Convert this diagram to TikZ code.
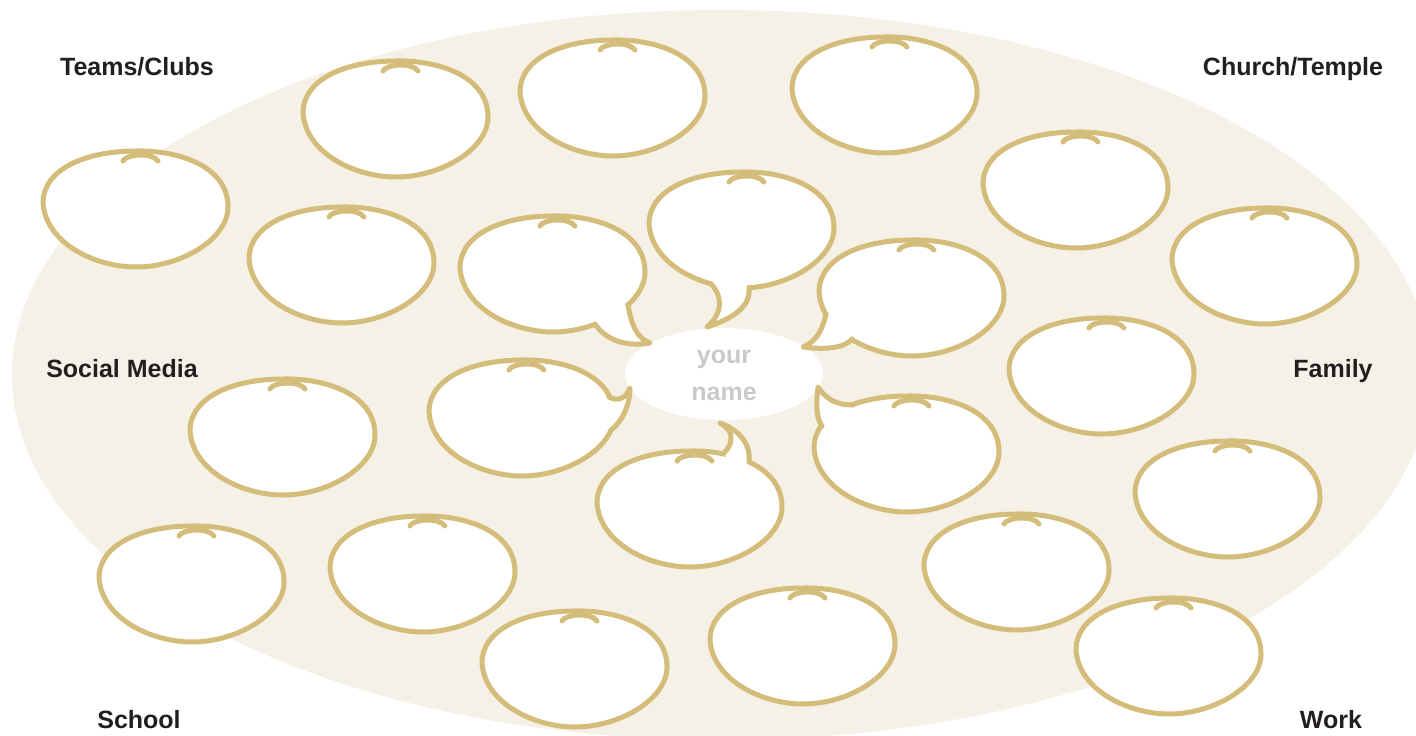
\documentclass[tikz,border=0pt]{standalone}
\usepackage{fontspec}
\setmainfont{Liberation Sans}
\definecolor{bgbeige}{HTML}{F5F1E6}
\definecolor{gold}{HTML}{D4BC7B}
\definecolor{lbl}{HTML}{231F20}
\definecolor{nmgrey}{HTML}{C8C9CB}
\tikzset{
  blobline/.style={draw=gold, line width=5pt, line join=round, line cap=round},
  catlabel/.style={font=\fontsize{25}{30}\selectfont\bfseries, text=lbl, anchor=base, inner sep=0pt},
  namelabel/.style={font=\fontsize{25}{30}\selectfont\bfseries, text=nmgrey, anchor=base, inner sep=0pt},
  blob/.pic={
    \path[fill=white, blobline] (0,-58) .. controls (40,-59) and (92,-44) .. (92,-2)
      .. controls (92,30) and (45,58) .. (0,58)
      .. controls (-40,58) and (-90,35) .. (-93,-6)
      .. controls (-93,-40) and (-50,-58) .. cycle;
    \draw[blobline] (-13,-48) .. controls (-10,-55) and (16,-57) .. (22,-48);
  }
}
\begin{document}
\begin{tikzpicture}[x=1pt,y=-1pt]
\useasboundingbox (0,0) rectangle (1416,736);
\clip (0,0) rectangle (1416,736);
\fill[white] (0,0) rectangle (1416,736);
% background
\fill[bgbeige] (721,375) ellipse [x radius=709, y radius=365];
% center
\fill[white] (724,374) ellipse [x radius=99, y radius=46];
\node[namelabel] (your) at (724,363) {your};
\node[namelabel] (name) at (724,400) {name};

% plain bubbles
\pic at (136,209) {blob};
\pic at (396,119) {blob};
\pic at (613,98) {blob};
\pic at (885,95) {blob};
\pic at (1076,190) {blob};
\pic at (1265,266) {blob};
\pic at (342,265) {blob};
\pic at (1102,376) {blob};
\pic at (283,437) {blob};
\pic at (1228,499) {blob};
\pic at (192,584) {blob};
\pic at (423,574) {blob};
\pic at (1017,572) {blob};
\pic at (575,669) {blob};
\pic at (803,646) {blob};
\pic at (1169,656) {blob};

% speech bubble A (upper left)
\pic at (553,274) {blob};
\fill[white] (628,305) .. controls (632,328) and (638,338) .. (650,343)
  .. controls (625,347) and (606,340) .. (595,324) -- (600,300) -- cycle;
\draw[blobline] (628,305) .. controls (632,328) and (638,338) .. (650,343)
  .. controls (625,347) and (606,340) .. (595,324);

% speech bubble B (top center)
\pic at (742,230) {blob};
\fill[white] (711,284) .. controls (722,295) and (724,312) .. (707,327)
  .. controls (735,318) and (751,305) .. (749,288) -- (730,268) -- cycle;
\draw[blobline] (711,284) .. controls (722,295) and (724,312) .. (707,327)
  .. controls (735,318) and (751,305) .. (749,288);

% speech bubble C (upper right)
\pic at (912,298) {blob};
\fill[white] (826,314) .. controls (822,332) and (815,342) .. (803,347)
  .. controls (825,350) and (845,348) .. (852,339) -- (848,318) -- cycle;
\draw[blobline] (826,314) .. controls (822,332) and (815,342) .. (803,347)
  .. controls (825,350) and (845,348) .. (852,339);

% speech bubble D (lower left)
\pic at (522,418) {blob};
\fill[white] (609,397) .. controls (618,402) and (626,398) .. (630,388)
  .. controls (630,405) and (622,422) .. (611,430) -- (592,412) -- cycle;
\draw[blobline] (609,397) .. controls (618,402) and (626,398) .. (630,388)
  .. controls (630,405) and (622,422) .. (611,430);

% speech bubble E (bottom center)
\pic at (690,509) {blob};
\fill[white] (724,453) .. controls (734,443) and (734,430) .. (720,423)
  .. controls (740,430) and (751,445) .. (749,462) -- (737,475) -- cycle;
\draw[blobline] (724,453) .. controls (734,443) and (734,430) .. (720,423)
  .. controls (740,430) and (751,445) .. (749,462);

% speech bubble F (lower right)
\pic at (907,454) {blob};
\fill[white] (853,405) .. controls (835,405) and (825,398) .. (818,387)
  .. controls (816,405) and (816,418) .. (822,426) -- (845,428) -- cycle;
\draw[blobline] (853,405) .. controls (835,405) and (825,398) .. (818,387)
  .. controls (816,405) and (816,418) .. (822,426);

% category labels
\node[catlabel] (teams) at (137,75) {Teams/Clubs};
\node[catlabel] (church) at (1293,75) {Church/Temple};
\node[catlabel] (social) at (122,377) {Social Media};
\node[catlabel] (family) at (1333,377) {Family};
\node[catlabel] (school) at (139,728) {School};
\node[catlabel] (work) at (1331,728) {Work};
\end{tikzpicture}
\end{document}
